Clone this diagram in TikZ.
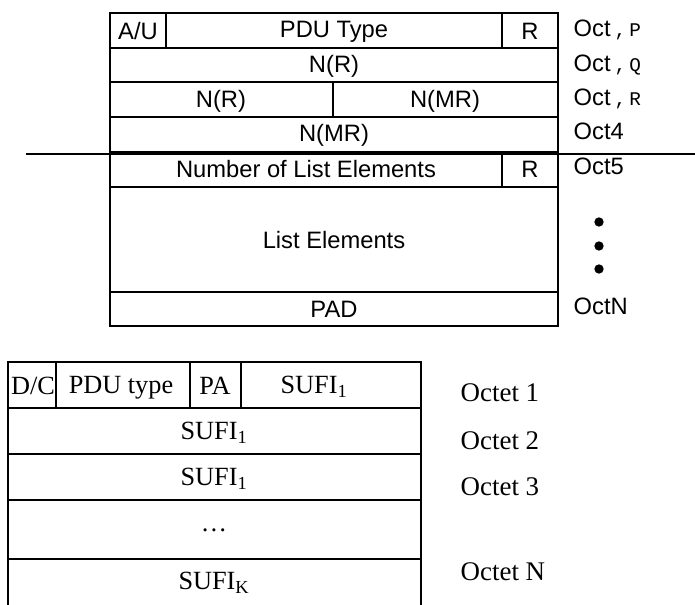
\documentclass[tikz,border=0pt]{standalone}
\usepackage{fontspec}
\setmainfont{Liberation Serif}
\newfontfamily\arialfont{Liberation Sans}
\newfontfamily\courfont{Liberation Mono}

\tikzset{every picture/.style={line width=1pt}}
\tikzset{
  hdrtxt/.style={font=\arialfont\fontsize{17.8}{20}\selectfont, inner sep=0pt},
  octtxt/.style={hdrtxt, anchor=west},
  sufitxt/.style={font=\fontsize{19.7}{22}\selectfont, inner sep=0pt},
  octettxt/.style={font=\fontsize{20.2}{22}\selectfont, inner sep=0pt, anchor=west},
  dotnode/.style={circle, fill, inner sep=0pt, minimum size=7pt},
}
\newcommand{\octsub}[1]{\,{\courfont\fontsize{14.5}{16}\selectfont,\,#1}}

\begin{document}
\begin{tikzpicture}[x=0.75pt,y=0.75pt,yscale=-1,xscale=1]
	\useasboundingbox (0,0) rectangle (695,605);
	
	%Shape: Rectangle (status header frame)
	\draw    (110,13) rectangle (558,326) ;
	%Straight Lines (row borders)
	\draw    (110,48) -- (558,48) ;
	\draw    (110,82) -- (558,82) ;
	\draw    (110,117) -- (558,117) ;
	\draw    (110,152) -- (558,152) ;
	\draw    (110,187) -- (558,187) ;
	\draw    (110,292) -- (558,292) ;
	%Straight Lines (cell dividers)
	\draw    (166,13) -- (166,48) ;
	\draw    (502,13) -- (502,48) ;
	\draw    (333,82) -- (333,117) ;
	\draw    (502,152) -- (502,187) ;
	%Straight Lines (cut line)
	\draw [line width=1.3]    (26,154) -- (695,154) ;
	
	%Text fields
	\node [hdrtxt] (au) at (138,31) {A/U};
	\node [hdrtxt] (pdutype) at (334,32) {PDU Type};
	\node [hdrtxt] (rone) at (530,31) {R};
	\node [hdrtxt] (nr) at (334,66) {N(R)};
	\node [hdrtxt] (nrhalf) at (221,101) {N(R)};
	\node [hdrtxt] (nmrhalf) at (445,101) {N(MR)};
	\node [hdrtxt] (nmr) at (334,135) {N(MR)};
	\node [hdrtxt] (numlist) at (306,169) {Number of List Elements};
	\node [hdrtxt] (rtwo) at (530,169) {R};
	\node [hdrtxt] (listel) at (334,240) {List Elements};
	\node [hdrtxt] (pad) at (334,309) {PAD};
	
	%Octet labels
	\node [octtxt] (octp) at (573,30) {Oct\octsub{P}};
	\node [octtxt] (octq) at (573,65) {Oct\octsub{Q}};
	\node [octtxt] (octr) at (573,99) {Oct\octsub{R}};
	\node [octtxt] (octfour) at (573,131) {Oct4};
	\node [octtxt] (octfive) at (573,166) {Oct5};
	\node [octtxt] (octn) at (573,306) {OctN};
	%Shape: Circle (dots)
	\node [dotnode] (dota) at (599,222) {};
	\node [dotnode] (dotb) at (599,246) {};
	\node [dotnode] (dotc) at (599,269) {};
	
	%Shape: Open frame (SUFI table)
	\draw [line width=1.1]    (8,605) -- (8,362) -- (421,362) -- (421,605) ;
	%Straight Lines (row borders)
	\draw [line width=1.1]    (8,408) -- (421,408) ;
	\draw [line width=1.1]    (8,454) -- (421,454) ;
	\draw [line width=1.1]    (8,500) -- (421,500) ;
	\draw [line width=1.3]    (8,559) -- (421,559) ;
	%Straight Lines (cell dividers)
	\draw [line width=1.1]    (56,362) -- (56,408) ;
	\draw [line width=1.1]    (190,362) -- (190,408) ;
	\draw [line width=1.1]    (241,362) -- (241,408) ;
	
	%Text fields
	\node [sufitxt] (dc) at (33,386) {D/C};
	\node [sufitxt] (pdutypeb) at (121,388) {PDU type};
	\node [sufitxt] (pa) at (215,386) {PA};
	\node [sufitxt] (sufia) at (314,387) {SUFI\textsubscript{1}};
	\node [sufitxt] (sufib) at (214,433) {SUFI\textsubscript{1}};
	\node [sufitxt] (sufic) at (214,479) {SUFI\textsubscript{1}};
	\node [sufitxt] (sufidots) at (214,530) {\dots};
	\node [sufitxt] (sufik) at (214,583) {SUFI\textsubscript{K}};
	
	%Octet labels
	\node [octettxt] (octeta) at (460,393) {Octet 1};
	\node [octettxt] (octetb) at (460,441) {Octet 2};
	\node [octettxt] (octetc) at (460,487) {Octet 3};
	\node [octettxt] (octetn) at (460,572) {Octet N};
	
\end{tikzpicture}
\end{document}
